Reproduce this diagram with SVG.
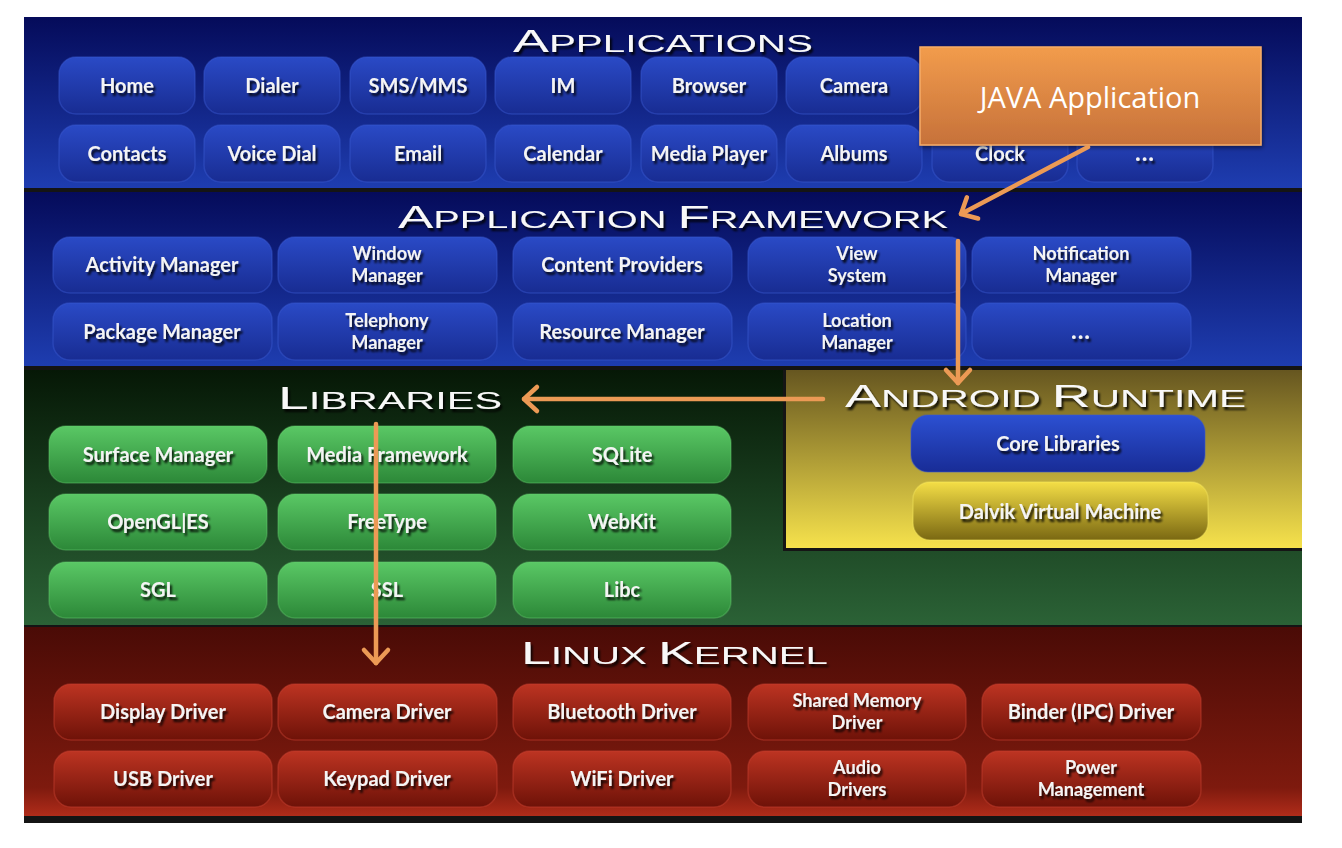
<svg xmlns="http://www.w3.org/2000/svg" width="1342" height="848" viewBox="0 0 1342 848">
<defs>
<style>
.t{font-family:"Lato","Open Sans",sans-serif;font-weight:700;font-size:20px;fill:#f4f4f4;text-anchor:middle;filter:url(#ts)}
.t2{font-size:18.2px}
.dots{font-size:24px;letter-spacing:1px}
.h{font-family:"Liberation Sans","DejaVu Sans",sans-serif;font-size:24px;fill:#f8f8f8;filter:url(#ts)}
.h .b{font-size:32px}
.bb{fill:url(#gBlue);stroke:#3a58d0;stroke-opacity:.45;stroke-width:1.5}
.gb{fill:url(#gGreen);stroke:#6ad474;stroke-opacity:.35;stroke-width:1.5}
.rb{fill:url(#gRed);stroke:#c84030;stroke-opacity:.45;stroke-width:1.5}
.yb{fill:url(#gDalvik);stroke:#f8e860;stroke-opacity:.4;stroke-width:1.5}
.arr{fill:none;stroke:#EC9A55;stroke-width:4.5;stroke-linecap:round;marker-end:url(#ah)}
</style>
<linearGradient id="bandBlue" x1="0" y1="0" x2="0" y2="1"><stop offset="0" stop-color="#050b5a"/><stop offset="1" stop-color="#1e3db0"/></linearGradient>
<linearGradient id="bandGreen" x1="0" y1="0" x2="0" y2="1"><stop offset="0" stop-color="#061806"/><stop offset="1" stop-color="#2b6236"/></linearGradient>
<linearGradient id="bandYellow" x1="0" y1="0" x2="0" y2="1"><stop offset="0" stop-color="#665620"/><stop offset="1" stop-color="#f6e24c"/></linearGradient>
<linearGradient id="bandRed" x1="0" y1="0" x2="0" y2="1"><stop offset="0" stop-color="#4a0b06"/><stop offset="0.85" stop-color="#7e1a0e"/><stop offset="1" stop-color="#b02c1a"/></linearGradient>
<linearGradient id="gBlue" x1="0" y1="0" x2="0" y2="1"><stop offset="0" stop-color="#2a4ac6"/><stop offset="1" stop-color="#182c92"/></linearGradient>
<linearGradient id="gCore" x1="0" y1="0" x2="0" y2="1"><stop offset="0" stop-color="#2c50d2"/><stop offset="1" stop-color="#182c96"/></linearGradient>
<linearGradient id="gGreen" x1="0" y1="0" x2="0" y2="1"><stop offset="0" stop-color="#5ac865"/><stop offset="1" stop-color="#2c8838"/></linearGradient>
<linearGradient id="gRed" x1="0" y1="0" x2="0" y2="1"><stop offset="0" stop-color="#bd3422"/><stop offset="1" stop-color="#6e1208"/></linearGradient>
<linearGradient id="gDalvik" x1="0" y1="0" x2="0" y2="1"><stop offset="0" stop-color="#f4de46"/><stop offset="1" stop-color="#7a6812"/></linearGradient>
<linearGradient id="gOrange" x1="0" y1="0" x2="0" y2="1"><stop offset="0" stop-color="#f29c4c"/><stop offset="1" stop-color="#c6713a"/></linearGradient>
<filter id="ts" x="-10%" y="-30%" width="130%" height="170%">
<feGaussianBlur in="SourceAlpha" stdDeviation="1.3"/>
<feOffset dx="2" dy="2.5" result="o"/>
<feComponentTransfer><feFuncA type="linear" slope="0.85"/></feComponentTransfer>
<feMerge><feMergeNode/><feMergeNode in="SourceGraphic"/></feMerge>
</filter>
<filter id="bs" x="-5%" y="-10%" width="110%" height="130%">
<feGaussianBlur in="SourceAlpha" stdDeviation="2"/>
<feOffset dx="1" dy="2"/>
<feComponentTransfer><feFuncA type="linear" slope="0.5"/></feComponentTransfer>
<feMerge><feMergeNode/><feMergeNode in="SourceGraphic"/></feMerge>
</filter>
<marker id="ah" viewBox="-20 -20 40 40" refX="0" refY="0" markerWidth="40" markerHeight="40" markerUnits="userSpaceOnUse" orient="auto">
<path d="M-13,-12 L0,0 L-13,12" fill="none" stroke="#EC9A55" stroke-width="4.5" stroke-linecap="round" stroke-linejoin="round"/>
</marker>
</defs>

<rect x="0" y="0" width="1342" height="848" fill="#ffffff"/>
<rect x="24" y="17" width="1278" height="806" fill="#141414"/>

<g id="layer-applications">
<rect x="24" y="17" width="1278" height="171" fill="url(#bandBlue)"/>
<text class="h" x="513" y="52" textLength="300" lengthAdjust="spacingAndGlyphs"><tspan class="b">A</tspan>PPLICATIONS</text>
</g>
<g id="layer-framework">
<rect x="24" y="192" width="1278" height="174" fill="url(#bandBlue)"/>
<text class="h" x="398" y="228" textLength="550" lengthAdjust="spacingAndGlyphs"><tspan class="b">A</tspan>PPLICATION <tspan class="b">F</tspan>RAMEWORK</text>
</g>
<g id="layer-libraries">
<rect x="24" y="370" width="1278" height="255" fill="url(#bandGreen)"/>
<text class="h" x="278" y="409" textLength="224" lengthAdjust="spacingAndGlyphs"><tspan class="b">L</tspan>IBRARIES</text>
</g>
<g id="layer-runtime">
<rect x="783" y="370" width="519" height="181" fill="#151515"/>
<rect x="786" y="370" width="516" height="178" fill="url(#bandYellow)"/>
<text class="h" x="845" y="407" textLength="401" lengthAdjust="spacingAndGlyphs"><tspan class="b">A</tspan>NDROID <tspan class="b">R</tspan>UNTIME</text>
</g>
<g id="layer-kernel">
<rect x="24" y="627" width="1278" height="189" fill="url(#bandRed)"/>
<text class="h" x="521" y="664" textLength="307" lengthAdjust="spacingAndGlyphs"><tspan class="b">L</tspan>INUX <tspan class="b">K</tspan>ERNEL</text>
</g>

<!-- Applications -->
<g id="app-home"><rect class="bb" x="59" y="57" width="136" height="57" rx="17"/><text class="t" x="127" y="93">Home</text></g>
<g id="app-dialer"><rect class="bb" x="204" y="57" width="136" height="57" rx="17"/><text class="t" x="272" y="93">Dialer</text></g>
<g id="app-sms"><rect class="bb" x="350" y="57" width="136" height="57" rx="17"/><text class="t" x="418" y="93">SMS/MMS</text></g>
<g id="app-im"><rect class="bb" x="495" y="57" width="136" height="57" rx="17"/><text class="t" x="563" y="93">IM</text></g>
<g id="app-browser"><rect class="bb" x="641" y="57" width="136" height="57" rx="17"/><text class="t" x="709" y="93">Browser</text></g>
<g id="app-camera"><rect class="bb" x="786" y="57" width="136" height="57" rx="17"/><text class="t" x="854" y="93">Camera</text></g>
<g id="app-contacts"><rect class="bb" x="59" y="125" width="136" height="57" rx="17"/><text class="t" x="127" y="161">Contacts</text></g>
<g id="app-voicedial"><rect class="bb" x="204" y="125" width="136" height="57" rx="17"/><text class="t" x="272" y="161">Voice Dial</text></g>
<g id="app-email"><rect class="bb" x="350" y="125" width="136" height="57" rx="17"/><text class="t" x="418" y="161">Email</text></g>
<g id="app-calendar"><rect class="bb" x="495" y="125" width="136" height="57" rx="17"/><text class="t" x="563" y="161">Calendar</text></g>
<g id="app-mediaplayer"><rect class="bb" x="641" y="125" width="136" height="57" rx="17"/><text class="t" x="709" y="161">Media Player</text></g>
<g id="app-albums"><rect class="bb" x="786" y="125" width="136" height="57" rx="17"/><text class="t" x="854" y="161">Albums</text></g>
<g id="app-clock"><rect class="bb" x="932" y="125" width="136" height="57" rx="17"/><text class="t" x="1000" y="161">Clock</text></g>
<g id="app-more"><rect class="bb" x="1077" y="125" width="136" height="57" rx="17"/><text class="t dots" x="1145" y="161">...</text></g>

<!-- Application Framework -->
<g id="fw-activity"><rect class="bb" x="53" y="237" width="219" height="56" rx="17"/><text class="t" x="162" y="272">Activity Manager</text></g>
<g id="fw-window"><rect class="bb" x="278" y="237" width="219" height="56" rx="17"/><text class="t t2" x="387" y="260">Window</text><text class="t t2" x="387" y="282">Manager</text></g>
<g id="fw-content"><rect class="bb" x="513" y="237" width="219" height="56" rx="17"/><text class="t" x="622" y="272">Content Providers</text></g>
<g id="fw-view"><rect class="bb" x="748" y="237" width="218" height="56" rx="17"/><text class="t t2" x="857" y="260">View</text><text class="t t2" x="857" y="282">System</text></g>
<g id="fw-notification"><rect class="bb" x="972" y="237" width="219" height="56" rx="17"/><text class="t t2" x="1081" y="260">Notification</text><text class="t t2" x="1081" y="282">Manager</text></g>
<g id="fw-package"><rect class="bb" x="53" y="303" width="219" height="57" rx="17"/><text class="t" x="162" y="339">Package Manager</text></g>
<g id="fw-telephony"><rect class="bb" x="278" y="303" width="219" height="57" rx="17"/><text class="t t2" x="387" y="327">Telephony</text><text class="t t2" x="387" y="349">Manager</text></g>
<g id="fw-resource"><rect class="bb" x="513" y="303" width="219" height="57" rx="17"/><text class="t" x="622" y="339">Resource Manager</text></g>
<g id="fw-location"><rect class="bb" x="748" y="303" width="218" height="57" rx="17"/><text class="t t2" x="857" y="327">Location</text><text class="t t2" x="857" y="349">Manager</text></g>
<g id="fw-more"><rect class="bb" x="972" y="303" width="219" height="57" rx="17"/><text class="t dots" x="1081" y="339">...</text></g>

<!-- Libraries -->
<g id="lib-surface"><rect class="gb" x="49" y="426" width="218" height="57" rx="17"/><text class="t" x="158" y="462">Surface Manager</text></g>
<g id="lib-media"><rect class="gb" x="278" y="426" width="218" height="57" rx="17"/><text class="t" x="387" y="462">Media Framework</text></g>
<g id="lib-sqlite"><rect class="gb" x="513" y="426" width="218" height="57" rx="17"/><text class="t" x="622" y="462">SQLite</text></g>
<g id="lib-opengl"><rect class="gb" x="49" y="494" width="218" height="56" rx="17"/><text class="t" x="158" y="529">OpenGL|ES</text></g>
<g id="lib-freetype"><rect class="gb" x="278" y="494" width="218" height="56" rx="17"/><text class="t" x="387" y="529">FreeType</text></g>
<g id="lib-webkit"><rect class="gb" x="513" y="494" width="218" height="56" rx="17"/><text class="t" x="622" y="529">WebKit</text></g>
<g id="lib-sgl"><rect class="gb" x="49" y="562" width="218" height="56" rx="17"/><text class="t" x="158" y="597">SGL</text></g>
<g id="lib-ssl"><rect class="gb" x="278" y="562" width="218" height="56" rx="17"/><text class="t" x="387" y="597">SSL</text></g>
<g id="lib-libc"><rect class="gb" x="513" y="562" width="218" height="56" rx="17"/><text class="t" x="622" y="597">Libc</text></g>

<!-- Android Runtime -->
<g id="rt-core"><rect x="911" y="415" width="294" height="57" rx="17" fill="url(#gCore)" stroke="#3a58d0" stroke-opacity=".4" stroke-width="1.5"/><text class="t" x="1058" y="451">Core Libraries</text></g>
<g id="rt-dalvik"><rect class="yb" x="913" y="482" width="295" height="58" rx="17"/><text class="t" x="1060" y="519">Dalvik Virtual Machine</text></g>

<!-- Linux Kernel -->
<g id="k-display"><rect class="rb" x="54" y="684" width="218" height="56" rx="17"/><text class="t" x="163" y="719">Display Driver</text></g>
<g id="k-camera"><rect class="rb" x="278" y="684" width="219" height="56" rx="17"/><text class="t" x="387" y="719">Camera Driver</text></g>
<g id="k-bluetooth"><rect class="rb" x="513" y="684" width="218" height="56" rx="17"/><text class="t" x="622" y="719">Bluetooth Driver</text></g>
<g id="k-sharedmem"><rect class="rb" x="748" y="684" width="218" height="56" rx="17"/><text class="t t2" x="857" y="707">Shared Memory</text><text class="t t2" x="857" y="729">Driver</text></g>
<g id="k-binder"><rect class="rb" x="982" y="684" width="219" height="56" rx="17"/><text class="t" x="1091" y="719">Binder (IPC) Driver</text></g>
<g id="k-usb"><rect class="rb" x="54" y="751" width="218" height="56" rx="17"/><text class="t" x="163" y="786">USB Driver</text></g>
<g id="k-keypad"><rect class="rb" x="278" y="751" width="219" height="56" rx="17"/><text class="t" x="387" y="786">Keypad Driver</text></g>
<g id="k-wifi"><rect class="rb" x="513" y="751" width="218" height="56" rx="17"/><text class="t" x="622" y="786">WiFi Driver</text></g>
<g id="k-audio"><rect class="rb" x="748" y="751" width="218" height="56" rx="17"/><text class="t t2" x="857" y="774">Audio</text><text class="t t2" x="857" y="796">Drivers</text></g>
<g id="k-power"><rect class="rb" x="982" y="751" width="219" height="56" rx="17"/><text class="t t2" x="1091" y="774">Power</text><text class="t t2" x="1091" y="796">Management</text></g>

<!-- JAVA Application callout -->
<g id="java-app">
<rect x="920" y="47" width="341" height="98" fill="url(#gOrange)" stroke="#f6ac68" stroke-width="1.5" filter="url(#bs)"/>
<text x="1090" y="108" font-family="'Open Sans','Noto Sans',sans-serif" font-size="29" font-weight="500" fill="#ffffff" text-anchor="middle">JAVA Application</text>
</g>

<g id="connectors">
<path class="arr" d="M1088,147 L961,214"/>
<path class="arr" d="M958,241 L958,383"/>
<path class="arr" d="M823,399 L524,399"/>
<path class="arr" d="M376,424 L376,663"/>
</g>
</svg>
